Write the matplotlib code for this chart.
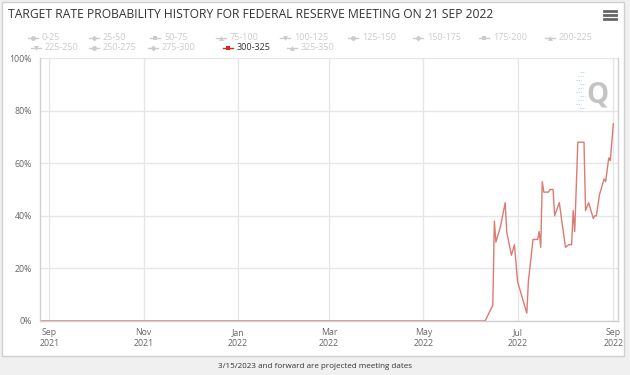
import matplotlib
matplotlib.use("Agg")
import matplotlib.pyplot as plt
import matplotlib.dates as mdates
from matplotlib.patches import Rectangle
import datetime as dt

plt.rcParams['font.family'] = ['Open Sans', 'DejaVu Sans']

# probability of 300-325 target range (%)
dates = ["2021-08-27", "2022-06-10", "2022-06-15", "2022-06-16", "2022-06-17", "2022-06-20",
         "2022-06-23", "2022-06-24", "2022-06-27", "2022-06-29", "2022-07-01", "2022-07-07",
         "2022-07-08", "2022-07-11", "2022-07-14", "2022-07-15", "2022-07-16", "2022-07-17",
         "2022-07-18", "2022-07-21", "2022-07-22", "2022-07-24", "2022-07-25", "2022-07-28",
         "2022-08-01", "2022-08-03", "2022-08-05", "2022-08-06", "2022-08-07", "2022-08-09",
         "2022-08-13", "2022-08-14", "2022-08-16", "2022-08-19", "2022-08-20", "2022-08-21",
         "2022-08-23", "2022-08-26", "2022-08-27", "2022-08-29", "2022-08-30", "2022-09-01"]
probs = [0, 0, 6, 38, 30, 36,
         45, 34, 25, 29, 15, 3,
         15, 31, 31, 34, 28, 53,
         49, 49, 50, 50, 40, 45,
         28, 29, 29, 42, 34, 68,
         68, 42, 45, 39, 40, 40,
         48, 54, 53, 62, 61, 75]

legend_labels = ["0-25", "25-50", "50-75", "75-100", "100-125", "125-150", "150-175",
                 "175-200", "200-225", "225-250", "250-275", "275-300", "300-325", "325-350"]
active = "300-325"
symbols = ["o", "D", "s", "^", "v"]

title = "TARGET RATE PROBABILITY HISTORY FOR FEDERAL RESERVE MEETING ON 21 SEP 2022"
footer = "3/15/2023 and forward are projected meeting dates"

W, H = 630, 375
fig = plt.figure(figsize=(W / 100, H / 100), dpi=100, facecolor="#f0f0f0")

def fx(px):
    return px / W

def fy(py):
    return 1 - py / H

# white chart box
fig.patches.append(Rectangle((fx(2), fy(356)), fx(622), 354 / H, transform=fig.transFigure,
                             facecolor="white", edgecolor="#cfcfcf", lw=1, zorder=-5))

fig.text(fx(8), fy(14), title, fontsize=8.7, color="#333333", va="center", ha="left")
fig.text(0.5, fy(367), footer, fontsize=5.8, color="#333333", va="center", ha="center")

# hamburger menu
for yy in (11, 15, 19):
    fig.add_artist(plt.Line2D([fx(604), fx(616)], [fy(yy), fy(yy)], transform=fig.transFigure,
                              color="#666666", lw=2))

# legend
row1_x = [33, 94, 155, 221, 285, 353, 418, 484, 550]
row2_x = [36, 94, 153, 228, 292]
pos = [(x, 38) for x in row1_x] + [(x, 48) for x in row2_x]
for i, lab in enumerate(legend_labels):
    x, y = pos[i]
    on = lab == active
    col = "#d62c1a" if on else "#cccccc"
    tcol = "#333333" if on else "#cccccc"
    fig.add_artist(plt.Line2D([fx(x - 5), fx(x + 5)], [fy(y), fy(y)], transform=fig.transFigure,
                              color=col, lw=1))
    fig.add_artist(plt.Line2D([fx(x)], [fy(y)], transform=fig.transFigure, marker=symbols[i % 5],
                              color=col, markersize=3.5 if symbols[i % 5] != "D" else 3,
                              markeredgewidth=0))
    fig.text(fx(x + 9), fy(y), lab, fontsize=6.5, color=tcol, va="center", ha="left")

# plot area
left, right, top, bottom = 40, 618, 58, 321
ax = fig.add_axes([fx(left), fy(bottom), fx(right - left), (bottom - top) / H])
ax.set_facecolor("none")

x = [dt.datetime.strptime(d, "%Y-%m-%d") for d in dates]
ax.plot(x, probs, color="#dc7b72", lw=1.0, zorder=3)

ax.set_ylim(0, 100)
ax.set_xlim(dt.datetime(2021, 8, 26), dt.datetime(2022, 9, 4))
ax.set_yticks([0, 20, 40, 60, 80, 100])
ax.set_yticklabels(["0%", "20%", "40%", "60%", "80%", "100%"])
ax.xaxis.set_major_locator(mdates.MonthLocator(bymonth=[1, 3, 5, 7, 9, 11]))
ax.xaxis.set_major_formatter(mdates.DateFormatter("%b\n%Y"))
ax.grid(True, color="#e6e6e6", lw=1)
ax.set_axisbelow(True)
for s in ax.spines.values():
    s.set_color("#d0d0d0")
    s.set_linewidth(1)
ax.spines["top"].set_visible(False)
ax.tick_params(axis="both", length=0, labelsize=6.3, colors="#666666")
ax.tick_params(axis="x", pad=5)
ax.tick_params(axis="y", pad=6)
for t in ax.get_xticklabels():
    t.set_linespacing(1.3)

# watermark
fig.text(fx(597), fy(95), "Q", fontsize=20, fontweight="bold", color="#b5b5b5",
         va="center", ha="center", alpha=0.8)
for k, yy in enumerate(range(72, 112, 4)):
    x1 = 585 - (k % 3) * 2
    fig.add_artist(plt.Line2D([fx(x1 - 5), fx(x1)], [fy(yy), fy(yy)], transform=fig.transFigure,
                              color="#a9d4ee", lw=0.8, ls=(0, (1, 1))))

fig.savefig("out.png", dpi=100, facecolor=fig.get_facecolor())
